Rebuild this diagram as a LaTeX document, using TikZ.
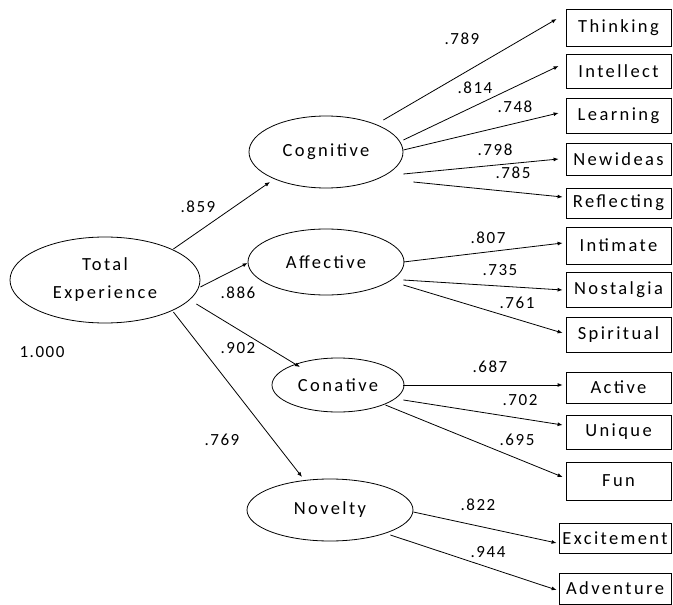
\documentclass[tikz,border=0pt]{standalone}
\usepackage{fontspec}
\setmainfont{Carlito}[LetterSpace=9]
\newfontfamily\wordfont{Carlito}[LetterSpace=13]
\usetikzlibrary{arrows.meta,calc,shapes.geometric}
\begin{document}
\begin{tikzpicture}[x=1pt,y=-1pt,
  every node/.style={font=\fontsize{17}{20}\selectfont},
  words/.style={font=\wordfont\fontsize{18.5}{20}\selectfont},
  latent/.style={draw,ellipse,line width=0.8pt,inner sep=0pt,words},
  obs/.style={draw,rectangle,line width=0.8pt,inner sep=0pt,minimum width=105pt,words},
  path/.style={line width=0.8pt,-{Latex[length=5pt,width=4pt]}},
  lbl/.style={inner sep=0pt}]
\useasboundingbox (0,0) rectangle (673,605);
% latent nodes
\node[latent,minimum width=190pt,minimum height=86pt,align=center] (tot) at (105,280) {Total\\[8pt]Experience};
\node[latent,minimum width=154pt,minimum height=72pt] (cog) at (326,152) {Cognitive};
\node[latent,minimum width=156pt,minimum height=66pt] (aff) at (326,262) {Affective};
\node[latent,minimum width=132pt,minimum height=54pt] (con) at (338,385) {Conative};
\node[latent,minimum width=166pt,minimum height=62pt] (nov) at (330,510) {Novelty};
% observed nodes
\node[obs,minimum height=37pt] (thi) at (618.5,27.5) {Thinking};
\node[obs,minimum height=34pt] (int) at (618.5,71) {Intellect};
\node[obs,minimum height=35pt] (lea) at (618.5,115.5) {Learning};
\node[obs,minimum height=32pt] (new) at (618.5,159) {Newideas};
\node[obs,minimum height=30pt] (ref) at (618.5,203) {Reflecting};
\node[obs,minimum height=37pt] (inm) at (618.5,245.5) {Intimate};
\node[obs,minimum height=35pt] (nos) at (618.5,289.5) {Nostalgia};
\node[obs,minimum height=35pt] (spi) at (618.5,334.5) {Spiritual};
\node[obs,minimum height=31pt] (act) at (618.5,387.5) {Active};
\node[obs,minimum height=34pt] (uni) at (618.5,432) {Unique};
\node[obs,minimum height=38pt] (fun) at (618.5,481) {Fun};
\node[obs,minimum width=112pt,minimum height=30pt] (exc) at (615,538) {Excitement};
\node[obs,minimum width=112pt,minimum height=31pt] (adv) at (615,588.5) {Adventure};
% total -> factors
\draw[path] ($(tot.east)+(-27,-31)$) -- ($(cog.center)+(-56,30)$);
\draw[path] ($(tot.east)+(0,7)$) -- ($(aff.west)+(0,1)$);
\draw[path] ($(tot.east)+(-4,24)$) -- ($(con.center)+(-38,-18)$);
\draw[path] ($(tot.east)+(-27,32)$) -- ($(nov.center)+(-28,-33)$);
% cognitive
\draw[path] ($(cog.east)+(-20,-32)$) -- ($(thi.west)+(-9,-8.5)$);
\draw[path] ($(cog.east)+(0,-12)$) -- ($(int.west)+(-7,-5)$);
\draw[path] ($(cog.east)+(0,-2)$) -- ($(lea.west)+(-7,-2.5)$);
\draw[path] ($(cog.east)+(0,22)$) -- ($(new.west)+(-7,0)$);
\draw[path] ($(cog.east)+(10,30)$) -- ($(ref.west)+(-3,-6)$);
% affective
\draw[path] ($(aff.east)+(-1,0)$) -- ($(inm.west)+(-3,-2.5)$);
\draw[path] ($(aff.east)+(-1,18)$) -- ($(nos.west)+(-3,0.5)$);
\draw[path] ($(aff.east)+(-1,23)$) -- ($(spi.west)+(-3,-1.5)$);
% conative
\draw[path] ($(con.east)+(-1,0)$) -- ($(act.west)+(-3,-2.5)$);
\draw[path] ($(con.east)+(-1,15)$) -- ($(uni.west)+(-3,-7)$);
\draw[path] ($(con.east)+(-19,20)$) -- ($(fun.west)+(-3,-4)$);
% novelty
\draw[path] ($(nov.east)+(0,2)$) -- ($(exc.west)+(-2,5)$);
\draw[path] ($(nov.east)+(-23,25)$) -- ($(adv.west)+(-2,1.5)$);
% labels
\node[lbl] (l1) at (42,352) {1.000};
\node[lbl] (l2) at (198,207) {.859};
\node[lbl] (l3) at (238,293) {.886};
\node[lbl] (l4) at (238,348) {.902};
\node[lbl] (l5) at (222,440) {.769};
\node[lbl] (l6) at (462,39) {.789};
\node[lbl] (l7) at (475,88) {.814};
\node[lbl] (l8) at (515,107) {.748};
\node[lbl] (l9) at (495,150) {.798};
\node[lbl] (l10) at (513,173) {.785};
\node[lbl] (l11) at (488,238) {.807};
\node[lbl] (l12) at (500,270) {.735};
\node[lbl] (l13) at (517,303) {.761};
\node[lbl] (l14) at (490,367) {.687};
\node[lbl] (l15) at (520,400) {.702};
\node[lbl] (l16) at (517,440) {.695};
\node[lbl] (l17) at (478,505) {.822};
\node[lbl] (l18) at (488,552) {.944};
\end{tikzpicture}
\end{document}
